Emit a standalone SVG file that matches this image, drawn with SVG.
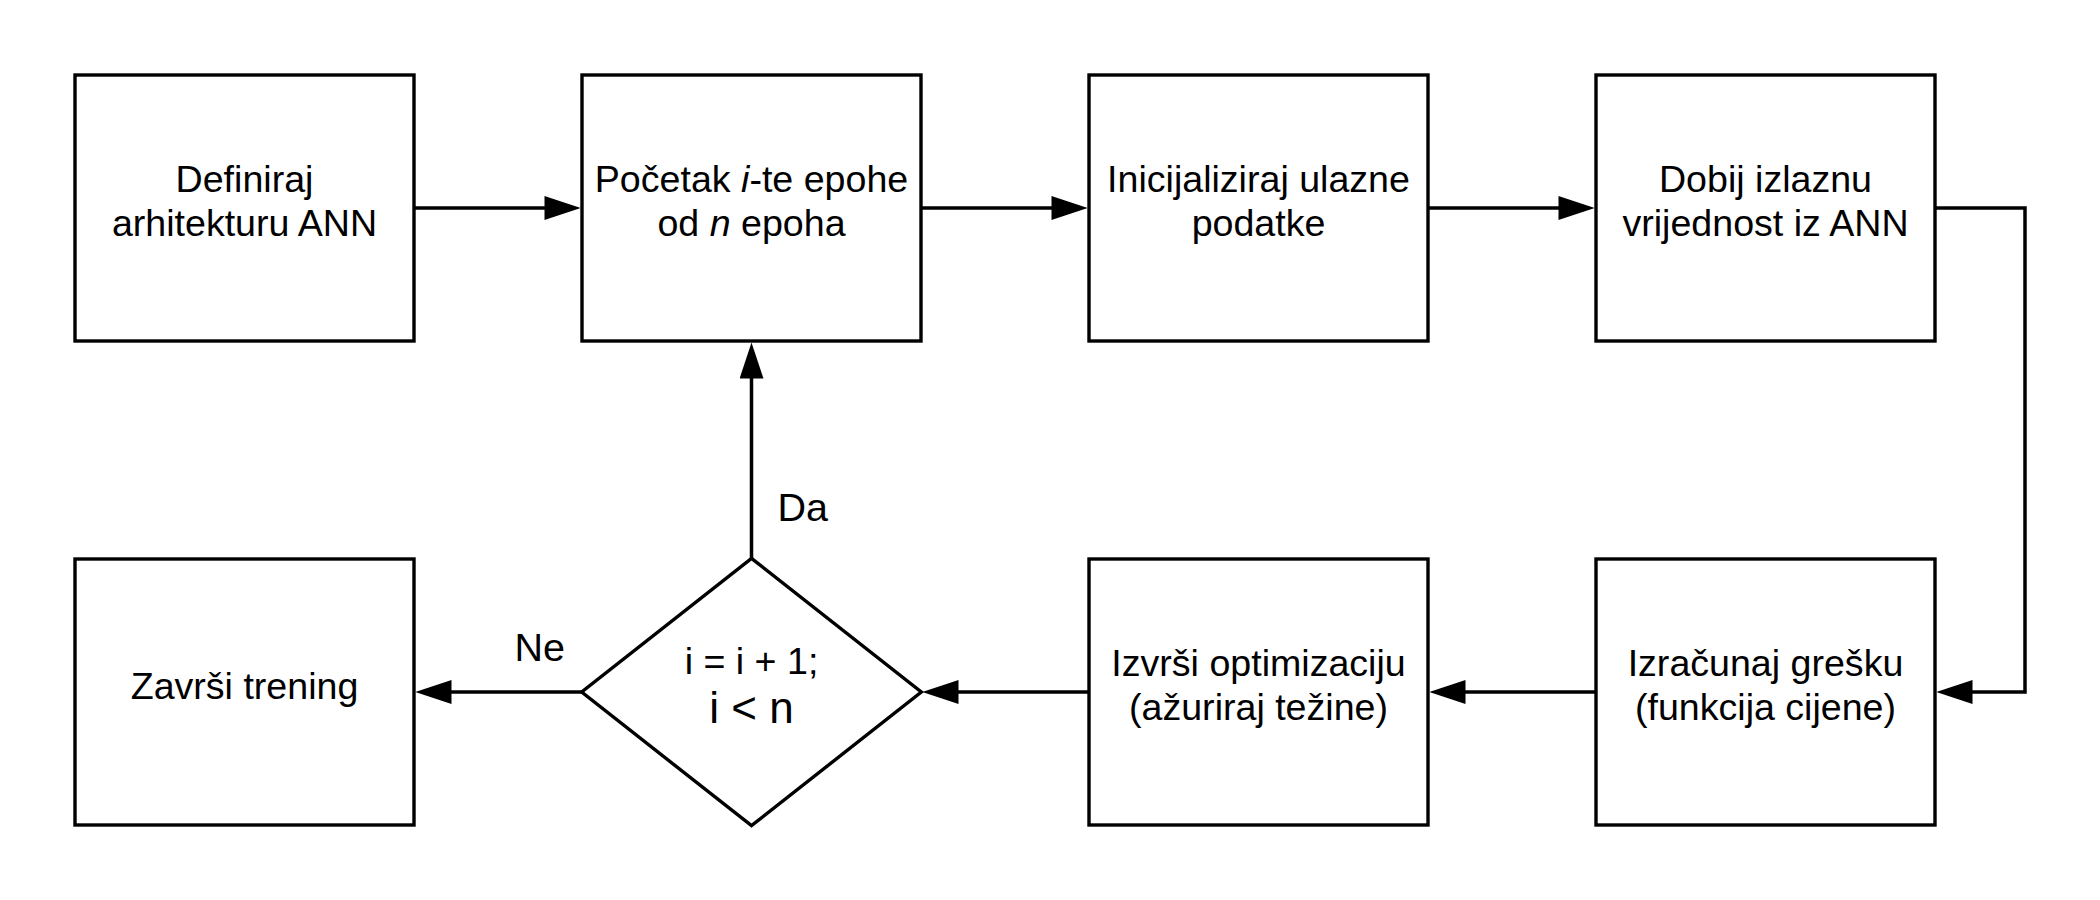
<svg xmlns="http://www.w3.org/2000/svg" width="2100" height="900" viewBox="0 0 2100 900">
<style>
.box{fill:#fff;stroke:#000;stroke-width:3.4}
.t{font-family:"Liberation Sans",Arial,sans-serif;font-size:37.6px;fill:#000;text-anchor:middle}
.big{font-size:44px}
.lbl{font-family:"Liberation Sans",Arial,sans-serif;font-size:39.5px;fill:#000}
.c{fill:none;stroke:#000;stroke-width:3.5;stroke-linejoin:miter}
</style>
<defs>
<marker id="ah" markerUnits="userSpaceOnUse" markerWidth="36" markerHeight="24" viewBox="0 0 34 22.6" refX="26" refY="11.3" orient="auto">
<path d="M0,0 L34,11.3 L0,22.6 z" fill="#000"/>
</marker>
</defs>
<rect width="2100" height="900" fill="#fff"/>
<g id="connectors">
<path class="c" d="M414,208 H572" marker-end="url(#ah)"/>
<path class="c" d="M921,208 H1079" marker-end="url(#ah)"/>
<path class="c" d="M1428,208 H1586" marker-end="url(#ah)"/>
<path class="c" d="M1935,208 H2025 V692 H1945" marker-end="url(#ah)"/>
<path class="c" d="M1596,692 H1438" marker-end="url(#ah)"/>
<path class="c" d="M1089,692 H931" marker-end="url(#ah)"/>
<path class="c" d="M581.7,692 H424" marker-end="url(#ah)"/>
<path class="c" d="M751.5,558.3 V351" marker-end="url(#ah)"/>
<text class="lbl" x="777.5" y="521">Da</text>
<text class="lbl" x="514.5" y="661">Ne</text>
</g>
<g id="n1">
<rect class="box" x="75" y="75" width="339" height="266"/>
<text class="t" x="244.5" y="192">Definiraj</text>
<text class="t" x="244.5" y="236">arhitekturu ANN</text>
</g>
<g id="n2">
<rect class="box" x="582" y="75" width="339" height="266"/>
<text class="t" x="751.5" y="192">Početak <tspan font-style="italic">i</tspan>-te epohe</text>
<text class="t" x="751.5" y="236">od <tspan font-style="italic">n</tspan> epoha</text>
</g>
<g id="n3">
<rect class="box" x="1089" y="75" width="339" height="266"/>
<text class="t" x="1258.5" y="192">Inicijaliziraj ulazne</text>
<text class="t" x="1258.5" y="236">podatke</text>
</g>
<g id="n4">
<rect class="box" x="1596" y="75" width="339" height="266"/>
<text class="t" x="1765.5" y="192">Dobij izlaznu</text>
<text class="t" x="1765.5" y="236">vrijednost iz ANN</text>
</g>
<g id="n5">
<rect class="box" x="1596" y="559" width="339" height="266"/>
<text class="t" x="1765.5" y="676">Izračunaj grešku</text>
<text class="t" x="1765.5" y="720">(funkcija cijene)</text>
</g>
<g id="n6">
<rect class="box" x="1089" y="559" width="339" height="266"/>
<text class="t" x="1258.5" y="676">Izvrši optimizaciju</text>
<text class="t" x="1258.5" y="720">(ažuriraj težine)</text>
</g>
<g id="n7">
<polygon class="box" points="751.5,558.3 921.3,692 751.5,825.7 581.7,692"/>
<text class="t" x="751.5" y="674">i = i + 1;</text>
<text class="t big" x="751.5" y="723">i &lt; n</text>
</g>
<g id="n8">
<rect class="box" x="75" y="559" width="339" height="266"/>
<text class="t" x="244.5" y="699">Završi trening</text>
</g>
</svg>
